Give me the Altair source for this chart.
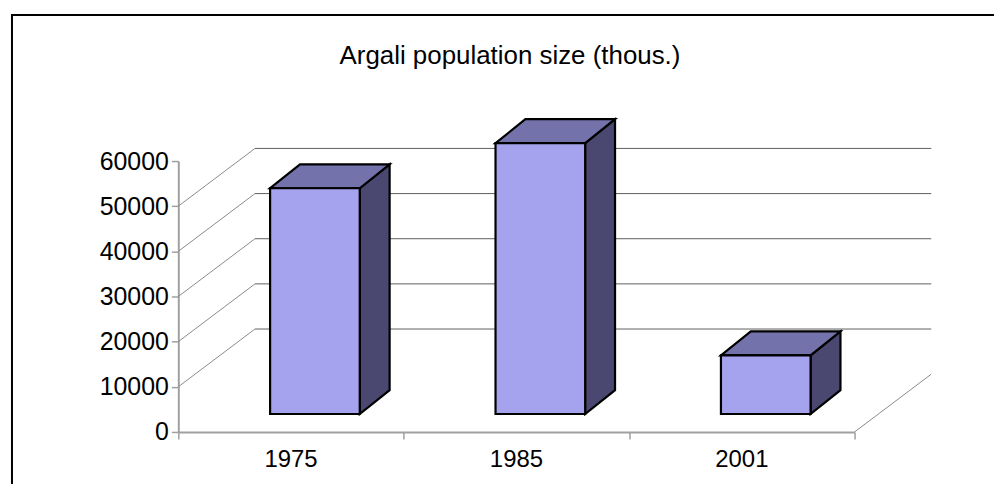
import altair as alt
import pandas as pd

# ---- data ----
years = ["1975", "1985", "2001"]
values = [50000, 60000, 13000]
y_ticks = [0, 10000, 20000, 30000, 40000, 50000, 60000]
wall_grid = [10000, 20000, 30000, 40000, 50000]
title_text = "Argali population size (thous.)"

# ---- geometry / style ----
W, H = 679, 272            # front plot area in px
XMAX, YMAX = 3, 60000
ux = XMAX / W              # data units per px (x)
uy = YMAX / H              # data units per px (y)
FONT = "Liberation Sans"
FRONT, TOP, SIDE = "#a5a3ee", "#7372aa", "#4a4770"

front_dx, front_dy = 24, 18     # bar front face offset into depth (px)
bar_dx, bar_dy = 30, 24         # bar depth (px)
half_w = 45                     # half bar width (px)
wall_dx, wall_dy = 77, 58       # full wall depth (px)
wall_right = 935 - 179          # back wall right end (px from axis)

xs = alt.Scale(domain=[0, XMAX], nice=False, zero=False)
ys = alt.Scale(domain=[0, YMAX], nice=False, zero=False)

xa = alt.Axis(values=[0, 1, 2, 3], labels=False, title=None, grid=False,
              domainColor="#a0a0a0", domainWidth=2, tickColor="#a0a0a0",
              tickWidth=1.5, tickSize=7)
ya = alt.Axis(values=y_ticks, title=None, grid=False, format="d",
              labelFont=FONT, labelFontSize=25, labelColor="black", labelPadding=3,
              domainColor="#a0a0a0", domainWidth=2, tickColor="#a0a0a0",
              tickWidth=1.5, tickSize=7)

front_rows, side_rows, top_rows = [], [], []
for i, (yr, v) in enumerate(zip(years, values)):
    c = i + 0.5
    L = c + (-half_w + front_dx) * ux
    R = c + (half_w + front_dx) * ux
    B = front_dy * uy
    T = v + front_dy * uy
    ddx, ddy = bar_dx * ux, bar_dy * uy
    front_rows.append(dict(year=yr, L=L, R=R, B=B, T=T))
    side_rows += [dict(year=yr, x=R, y=T, y2=B),
                  dict(year=yr, x=R + ddx, y=T + ddy, y2=B + ddy)]
    top_rows += [dict(year=yr, y=T, x=L, x2=R),
                 dict(year=yr, y=T + ddy, x=L + ddx, x2=R + ddx)]

front_df = pd.DataFrame(front_rows)
side_df = pd.DataFrame(side_rows)
top_df = pd.DataFrame(top_rows)

grid_df = pd.DataFrame({
    "x": [wall_dx * ux] * len(wall_grid),
    "x2": [wall_right * ux] * len(wall_grid),
    "y": [g + wall_dy * uy for g in wall_grid],
})
diag_df = pd.DataFrame({
    "x": [0.0] * len(wall_grid) + [XMAX],
    "x2": [wall_dx * ux] * len(wall_grid) + [XMAX + wall_dx * ux],
    "y": wall_grid + [0],
    "y2": [g + wall_dy * uy for g in wall_grid] + [wall_dy * uy],
})
label_df = pd.DataFrame({"year": years, "xc": [i + 0.5 for i in range(len(years))]})
title_df = pd.DataFrame({"t": [title_text]})

axes = alt.Chart(pd.DataFrame({"x": [0.0], "y": [0.0]})).mark_point(opacity=0).encode(
    x=alt.X("x:Q", scale=xs, axis=xa),
    y=alt.Y("y:Q", scale=ys, axis=ya),
)

border = alt.Chart(title_df).mark_rect(
    fill=None, stroke="black", strokeWidth=2
).encode(x=alt.value(-167), x2=alt.value(1200), y=alt.value(-146.7), y2=alt.value(800))

grid = alt.Chart(grid_df).mark_rule(color="#5e5e5e", strokeWidth=1).encode(
    x=alt.X("x:Q", scale=xs, axis=xa), x2="x2:Q",
    y=alt.Y("y:Q", scale=ys, axis=ya),
)
diag = alt.Chart(diag_df).mark_rule(color="#8a8a8a", strokeWidth=1).encode(
    x=alt.X("x:Q", scale=xs, axis=xa), x2="x2:Q",
    y=alt.Y("y:Q", scale=ys, axis=ya), y2="y2:Q",
)

side = alt.Chart(side_df).mark_area(
    orient="vertical", fill=SIDE, stroke="black", strokeWidth=2.2, strokeJoin="miter", opacity=1
).encode(
    x=alt.X("x:Q", scale=xs, axis=xa),
    y=alt.Y("y:Q", scale=ys, axis=ya), y2="y2:Q",
    detail="year:N",
)
top = alt.Chart(top_df).mark_area(
    orient="horizontal", fill=TOP, stroke="black", strokeWidth=2.2, strokeJoin="miter", opacity=1
).encode(
    y=alt.Y("y:Q", scale=ys, axis=ya),
    x=alt.X("x:Q", scale=xs, axis=xa), x2="x2:Q",
    detail="year:N",
)
front = alt.Chart(front_df).mark_rect(
    fill=FRONT, stroke="black", strokeWidth=2.2, strokeJoin="miter"
).encode(
    x=alt.X("L:Q", scale=xs, axis=xa), x2="R:Q",
    y=alt.Y("B:Q", scale=ys, axis=ya), y2="T:Q",
)

cat_labels = alt.Chart(label_df).mark_text(
    font=FONT, fontSize=24, color="black", baseline="alphabetic", align="center"
).encode(
    x=alt.X("xc:Q", scale=xs, axis=xa),
    y=alt.value(307.5),
    text="year:N",
)
title = alt.Chart(title_df).mark_text(
    font=FONT, fontSize=26, color="black", baseline="alphabetic", align="center"
).encode(x=alt.value(333), y=alt.value(-97.5), text="t:N")

chart = alt.layer(
    axes, border, grid, diag, side, top, front, cat_labels, title
).properties(
    width=W, height=H,
    autosize=alt.AutoSizeParams(type="none"),
    padding={"left": 171, "top": 152.7, "right": 140, "bottom": 51.3},
).configure_view(stroke=None)

chart.save("out.html", embed_options={"renderer": "svg", "actions": False})
